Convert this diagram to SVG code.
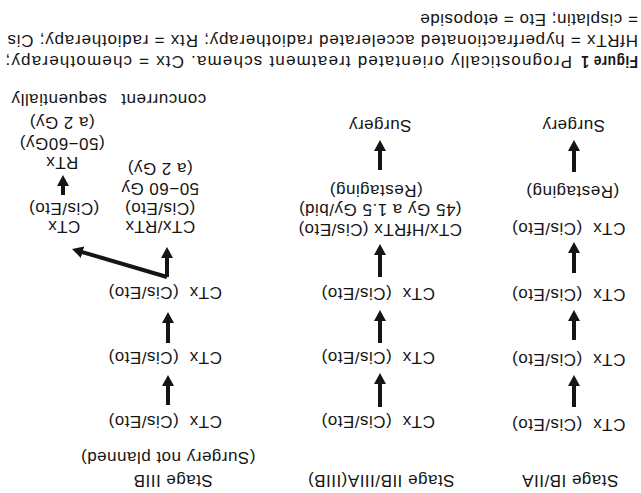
<svg xmlns="http://www.w3.org/2000/svg" width="641" height="493" viewBox="0 0 641 493" font-family="Liberation Sans, Arial, Helvetica, sans-serif">
<style>
text{font-family:'Liberation Sans',Arial,Helvetica,sans-serif;font-size:17px;letter-spacing:0.5px;fill:#151515;}
.c{text-anchor:middle;}
.b{font-weight:bold;}
.conn line{stroke:#151515;stroke-width:4;fill:none;}
</style>
<defs>
<marker id="ah" markerUnits="userSpaceOnUse" markerWidth="11" markerHeight="14" viewBox="0 0 11 14" refX="3" refY="7" orient="auto">
<path d="M0,1 L11,7 L0,13 z" fill="#151515"/>
</marker>
</defs>
<rect width="641" height="493" fill="#fff"/>
<g transform="rotate(180 320.5 246.5)" font-family="Liberation Sans, Arial, Helvetica, sans-serif">
<!-- Right column (upright left) -->
<g id="r-stage"><text class="c" x="71" y="18">Stage IB/IIA</text></g>
<g id="r-ctx1"><text class="c" x="72.5" y="74" xml:space="preserve">CTx  (Cis/Eto)</text></g>
<g id="r-ctx2"><text class="c" x="72.5" y="139" xml:space="preserve">CTx  (Cis/Eto)</text></g>
<g id="r-ctx3"><text class="c" x="72.5" y="204" xml:space="preserve">CTx  (Cis/Eto)</text></g>
<g id="r-ctx4"><text class="c" x="72.5" y="270" xml:space="preserve">CTx  (Cis/Eto)</text></g>
<g id="r-restaging"><text class="c" x="68.5" y="307.5">(Restaging)</text></g>
<g id="r-surgery"><text class="c" x="67.5" y="373">Surgery</text></g>

<!-- Middle column -->
<g id="m-stage"><text class="c" x="260" y="18">Stage IIB/IIIA(IIIB)</text></g>
<g id="m-ctx1"><text class="c" x="263" y="77" xml:space="preserve">CTx  (Cis/Eto)</text></g>
<g id="m-ctx2"><text class="c" x="263" y="141" xml:space="preserve">CTx  (Cis/Eto)</text></g>
<g id="m-ctx3"><text class="c" x="263" y="205" xml:space="preserve">CTx  (Cis/Eto)</text></g>
<g id="m-hfrtx">
<text class="c" x="261" y="269">CTx/HfRTx (Cis/Eto)</text>
<text class="c" x="261" y="289">(45 Gy a 1.5 Gy/bid)</text>
<text class="c" x="265" y="308.5">(Restaging)</text>
</g>
<g id="m-surgery"><text class="c" x="261" y="373">Surgery</text></g>

<!-- Left column (upright right) -->
<g id="l-stage">
<text class="c" x="468" y="18">Stage IIIB</text>
<text class="c" x="473" y="41">(Surgery not planned)</text>
</g>
<g id="l-ctx1"><text class="c" x="476" y="77" xml:space="preserve">CTx  (Cis/Eto)</text></g>
<g id="l-ctx2"><text class="c" x="476" y="141" xml:space="preserve">CTx  (Cis/Eto)</text></g>
<g id="l-ctx3"><text class="c" x="476" y="206" xml:space="preserve">CTx  (Cis/Eto)</text></g>
<g id="l-concurrent">
<text class="c" x="481" y="272.5">CTx/RTx</text>
<text class="c" x="481" y="290.5">(Cis/Eto)</text>
<text class="c" x="481" y="310.5">50−60 Gy</text>
<text class="c" x="481" y="330.5">(a 2 Gy)</text>
</g>
<g id="l-seq-ctx">
<text class="c" x="577" y="272.5">CTx</text>
<text class="c" x="577" y="290.5">(Cis/Eto)</text>
</g>
<g id="l-seq-rtx">
<text class="c" x="579" y="336.5">RTx</text>
<text class="c" x="579" y="355">(50−60Gy)</text>
<text class="c" x="579" y="376">(a 2 Gy)</text>
</g>
<g id="l-labels">
<text class="c" x="477.5" y="399">concurrent</text>
<text class="c" x="582" y="399">sequentially</text>
</g>

<!-- Connectors -->
<g id="connectors" class="conn">
<line x1="67" y1="86" x2="67" y2="110" marker-end="url(#ah)"/>
<line x1="67" y1="153" x2="67" y2="175" marker-end="url(#ah)"/>
<line x1="67" y1="220" x2="67" y2="243" marker-end="url(#ah)"/>
<line x1="67" y1="321" x2="67" y2="345" marker-end="url(#ah)"/>
<line x1="261" y1="86" x2="261" y2="112" marker-end="url(#ah)"/>
<line x1="261" y1="150" x2="261" y2="175" marker-end="url(#ah)"/>
<line x1="261" y1="216" x2="261" y2="241" marker-end="url(#ah)"/>
<line x1="261" y1="323" x2="261" y2="345" marker-end="url(#ah)"/>
<line x1="473" y1="88" x2="473" y2="110" marker-end="url(#ah)"/>
<line x1="473" y1="150" x2="473" y2="173" marker-end="url(#ah)"/>
<line x1="474" y1="216" x2="474" y2="238" marker-end="url(#ah)"/>
<line x1="474" y1="216" x2="561.3" y2="241.7" marker-end="url(#ah)"/>
<line x1="578" y1="298" x2="578" y2="310" marker-end="url(#ah)"/>
</g>

<!-- Caption -->
<g id="caption">
<text x="3" y="437"><tspan class="b" textLength="57" lengthAdjust="spacingAndGlyphs">Figure 1</tspan></text>
<text x="69" y="437" textLength="567" lengthAdjust="spacing">Prognostically orientated treatment schema. Ctx = chemotherapy;</text>
<text x="3" y="458" textLength="631" lengthAdjust="spacing">HfRTx = hyperfractionated accelerated radiotherapy; Rtx = radiotherapy; Cis</text>
<text x="3" y="479">= cisplatin; Eto = etoposide</text>
</g>
</g>
</svg>
